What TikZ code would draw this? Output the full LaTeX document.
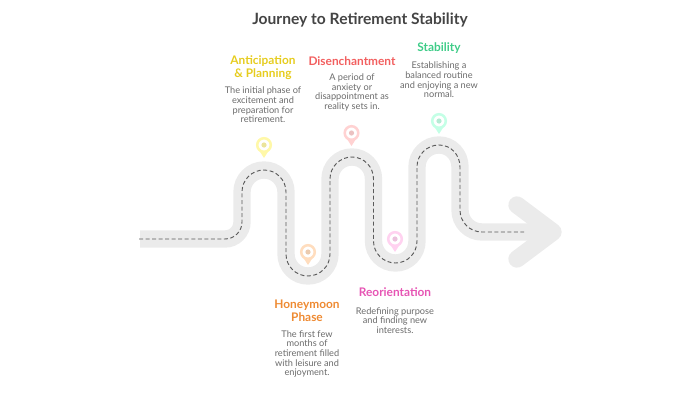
\documentclass[tikz,border=0pt]{standalone}
\usepackage{fontspec}
\usepackage{xcolor}
\setmainfont{Lato}

\definecolor{roadgray}{HTML}{EBEBEB}
\definecolor{dashgray}{HTML}{5A5A5A}
\definecolor{titlegray}{HTML}{444444}
\definecolor{descgray}{HTML}{6B6B6B}
\definecolor{planyellow}{HTML}{E6CC1E}
\definecolor{honeyorange}{HTML}{EE8A32}
\definecolor{disred}{HTML}{F25F5F}
\definecolor{reopink}{HTML}{E655B4}
\definecolor{stabgreen}{HTML}{3FCC88}
\definecolor{pinyellow}{HTML}{FFF8A8}
\definecolor{pinorange}{HTML}{FFDDBE}
\definecolor{pinred}{HTML}{FFD2D2}
\definecolor{pinpink}{HTML}{FFD2F0}
\definecolor{pingreen}{HTML}{C4FFE6}

\tikzset{
  headlabel/.style={font=\bfseries\fontsize{8.9}{9.75}\selectfont,align=center},
  desclabel/.style={font=\fontsize{6.9}{7.2}\selectfont,align=center,text=descgray},
}

\begin{document}
\begin{tikzpicture}[x=0.75pt,y=-0.75pt]
\useasboundingbox (0,0) rectangle (700,400);

% Road band
\draw[roadgray,line width=13pt]
  (140,239) -- (225,239) .. controls (234.4,239) and (242,231.4) .. (242,222)
  -- (242,192) .. controls (242,179.8) and (251.8,170) .. (264,170)
  .. controls (276.2,170) and (286,179.8) .. (286,192)
  -- (286,254) .. controls (286,266.2) and (295.8,276) .. (308,276)
  .. controls (320.2,276) and (330,266.2) .. (330,254)
  -- (330,179) .. controls (330,166.8) and (339.8,157) .. (352,157)
  .. controls (364,157) and (373.5,166.8) .. (373.5,179)
  -- (373.5,241) .. controls (373.5,253.2) and (383.3,263) .. (395.5,263)
  .. controls (407.5,263) and (417,253.2) .. (417,241)
  -- (417,167) .. controls (417,154.8) and (426.8,145) .. (439,145)
  .. controls (451,145) and (460,154.8) .. (460,167)
  -- (460,210) .. controls (460,222.2) and (469.8,232) .. (482,232) -- (553,232);

% Arrow head of the road
\draw[roadgray,line width=13pt,line cap=round,line join=round]
  (517,205) -- (553,232) -- (517,259);

% Dashed centre line
\draw[dashgray,line width=0.7pt,dash pattern=on 3pt off 1.9pt]
  (139,239) -- (225,239) .. controls (234.4,239) and (242,231.4) .. (242,222)
  -- (242,192) .. controls (242,179.8) and (251.8,170) .. (264,170)
  .. controls (276.2,170) and (286,179.8) .. (286,192)
  -- (286,254) .. controls (286,266.2) and (295.8,276) .. (308,276)
  .. controls (320.2,276) and (330,266.2) .. (330,254)
  -- (330,179) .. controls (330,166.8) and (339.8,157) .. (352,157)
  .. controls (364,157) and (373.5,166.8) .. (373.5,179)
  -- (373.5,241) .. controls (373.5,253.2) and (383.3,263) .. (395.5,263)
  .. controls (407.5,263) and (417,253.2) .. (417,241)
  -- (417,167) .. controls (417,154.8) and (426.8,145) .. (439,145)
  .. controls (451,145) and (460,154.8) .. (460,167)
  -- (460,210) .. controls (460,222.2) and (469.8,232) .. (482,232) -- (524,232);

% Map pins
\foreach \px/\py/\pincol in {264/145/pinyellow,308/252/pinorange,351.5/133/pinred,395/239/pinpink,439/121/pingreen}{
  \fill[\pincol] (\px-4.5,\py+6) -- (\px,\py+13) -- (\px+4.5,\py+6) -- cycle;
  \draw[\pincol,line width=1.9pt,fill=white] (\px,\py) circle [radius=6.8];
  \fill[\pincol!92!black] (\px,\py) circle [radius=2.6];
}

% Title
\node[font=\bfseries\fontsize{11.7}{13}\selectfont,text=titlegray] (title) at (360,20) {Journey to Retirement Stability};

% Labels above the road
\node[headlabel,text=planyellow] (planhead) at (263,67.5) {Anticipation\\\& Planning};
\node[desclabel] (plandesc) at (263,105) {The initial phase of\\excitement and\\preparation for\\retirement.};

\node[headlabel,text=disred] (dishead) at (352,61) {Disenchantment};
\node[desclabel] (disdesc) at (352,92.5) {A period of\\anxiety or\\disappointment as\\reality sets in.};

\node[headlabel,text=stabgreen] (stabhead) at (439,48) {Stability};
\node[desclabel] (stabdesc) at (439,80) {Establishing a\\balanced routine\\and enjoying a new\\normal.};

% Labels below the road
\node[headlabel,text=honeyorange] (honeyhead) at (307,311) {Honeymoon\\Phase};
\node[desclabel] (honeydesc) at (307,354) {The first few\\months of\\retirement filled\\with leisure and\\enjoyment.};

\node[headlabel,text=reopink] (reohead) at (395,292) {Reorientation};
\node[desclabel] (reodesc) at (395,320.5) {Redefining purpose\\and finding new\\interests.};

\end{tikzpicture}
\end{document}
